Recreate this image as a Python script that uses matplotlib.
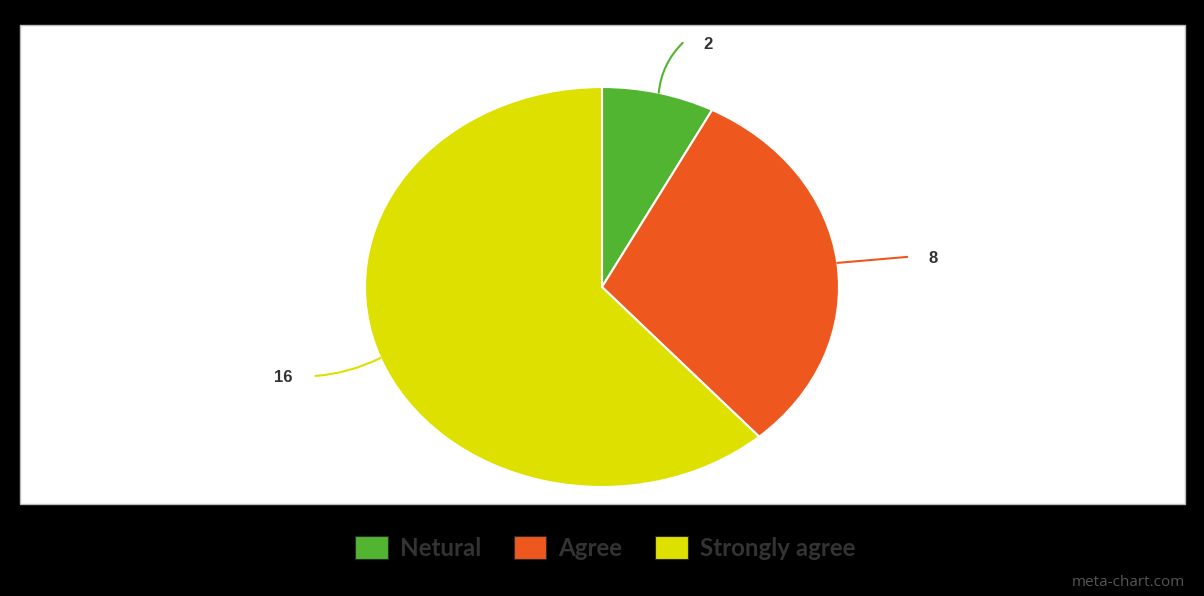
import numpy as np
import matplotlib
matplotlib.use("Agg")
from matplotlib import pyplot as plt
from matplotlib.patches import Rectangle, Patch

categories = ["Netural", "Agree", "Strongly agree"]
values = [2, 8, 16]
colors = ["#52b532", "#ee581e", "#dee000"]

# pixel offsets (edge point -> end of leader line, then -> label centre)
line_off = [(24, 50), (70, 6), (-65, -18)]
text_off = [(49, 48), (96, 4), (-97, -20)]
rads = [0.18, 0.0, 0.1]

W, H = 1204, 596
fig = plt.figure(figsize=(W / 100, H / 100), dpi=100, facecolor="black")

# white panel
px_l, px_t, px_r, px_b = 20, 25, 1185, 504
fig.add_artist(Rectangle((px_l / W, 1 - px_b / H), (px_r - px_l) / W, (px_b - px_t) / H,
                         transform=fig.transFigure, facecolor="white",
                         edgecolor="#bbbbbb", lw=1, zorder=0))

ax = fig.add_axes([px_l / W, 1 - px_b / H, (px_r - px_l) / W, (px_b - px_t) / H])
cx, cy, rx, ry = 602, 287, 237, 200
wedges, _ = ax.pie(values, colors=colors, startangle=90, counterclock=False,
                   wedgeprops=dict(edgecolor="white", linewidth=1.5))
ax.set_aspect("auto")
ax.set_xlim((px_l - cx) / rx, (px_r - cx) / rx)
ax.set_ylim((cy - px_b) / ry, (cy - px_t) / ry)
ax.set_axis_off()

for w, v, c, lo, to, rad in zip(wedges, values, colors, line_off, text_off, rads):
    ang = np.deg2rad((w.theta1 + w.theta2) / 2)
    edge = (np.cos(ang), np.sin(ang))
    ax.annotate("", xy=edge, xycoords="data", xytext=lo, textcoords="offset pixels",
                arrowprops=dict(arrowstyle="-", color=c, lw=1.5, shrinkA=0, shrinkB=0,
                                connectionstyle=f"arc3,rad={rad}"))
    ax.annotate(str(v), xy=edge, xycoords="data", xytext=to, textcoords="offset pixels",
                ha="center", va="center", fontsize=12, fontweight="bold",
                color="#333333", family="Liberation Sans")

handles = [Patch(facecolor=c, edgecolor="#2a2a2a", lw=0.8) for c in colors]
leg = fig.legend(handles, categories, loc="center", bbox_to_anchor=(605 / W, 1 - 548 / H),
                 ncol=3, frameon=False, handlelength=1.35, handleheight=1.1,
                 handletextpad=0.5, columnspacing=1.35,
                 prop=dict(family="Lato", weight="bold", size=17.4))
for t in leg.get_texts():
    t.set_color("#333333")

fig.text(1185 / W, 1 - 582 / H, "meta-chart.com", ha="right", va="center",
         fontsize=11, color="#555555", family="Open Sans")

fig.savefig("out.png", dpi=100, facecolor="black")
